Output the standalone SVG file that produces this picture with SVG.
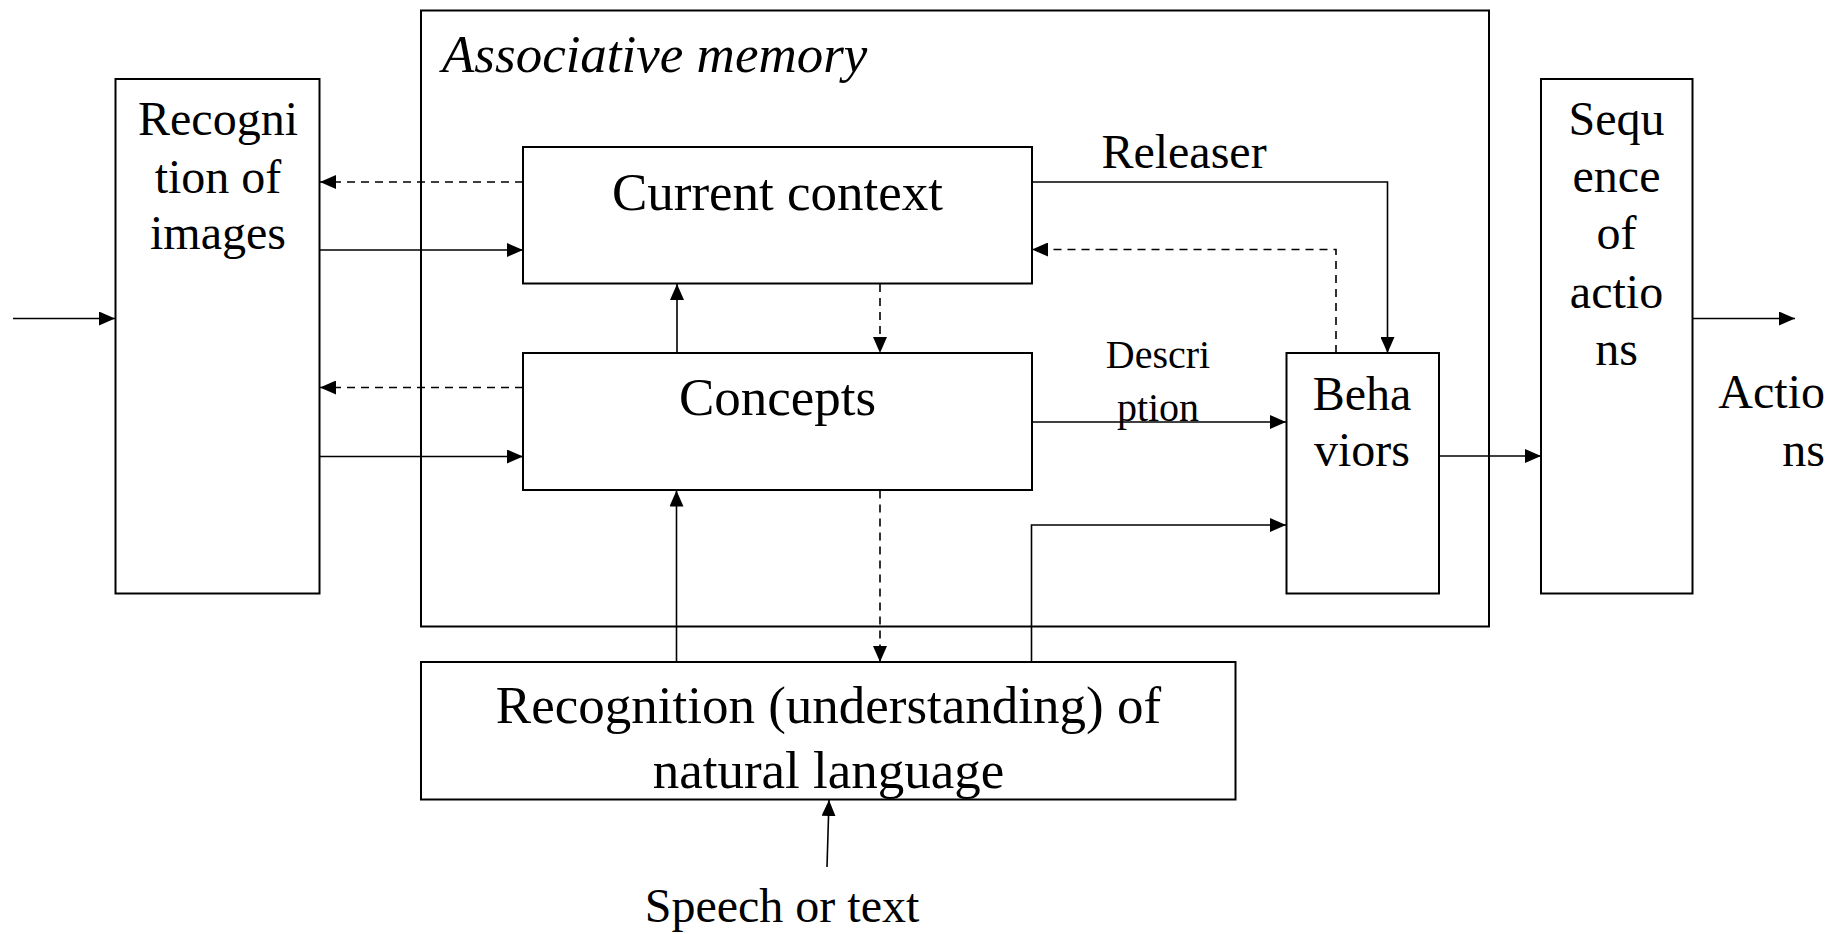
<svg xmlns="http://www.w3.org/2000/svg" width="1843" height="934" viewBox="0 0 1843 934">
<style>
.box{fill:none;stroke:#000;stroke-width:2}
.ln{fill:none;stroke:#000;stroke-width:1.6;marker-end:url(#ah)}
.dash{stroke-dasharray:8,6}
text{font-family:"Liberation Serif","Times New Roman",serif;fill:#000}
.big{font-size:53px;text-anchor:middle}
.med{font-size:48px;text-anchor:middle}
.sm{font-size:40px;text-anchor:middle}
</style>
<defs>
<marker id="ah" markerUnits="userSpaceOnUse" markerWidth="16" markerHeight="14" refX="16" refY="7" orient="auto">
<path d="M0,0 L16,7 L0,14 z" fill="#000"/>
</marker>
</defs>
<rect width="1843" height="934" fill="#fff"/>
<g id="assoc-memory">
<rect class="box" x="421" y="10.5" width="1068" height="616"/>
<text x="442" y="72" style="font-size:53px;font-style:italic">Associative memory</text>
</g>
<g id="recognition-images">
<rect class="box" x="115.5" y="79" width="204" height="514.5"/>
<text class="med" x="218" y="135">Recogni</text>
<text class="med" x="218" y="192.5">tion of</text>
<text class="med" x="218" y="249">images</text>
</g>
<g id="current-context">
<rect class="box" x="523" y="147" width="509" height="136.5"/>
<text class="big" x="777.5" y="210">Current context</text>
</g>
<g id="concepts">
<rect class="box" x="523" y="353" width="509" height="137"/>
<text class="big" x="777.5" y="415">Concepts</text>
</g>
<g id="behaviors">
<rect class="box" x="1286.5" y="353" width="152.5" height="240.5"/>
<text class="med" x="1362" y="410">Beha</text>
<text class="med" x="1362" y="466">viors</text>
</g>
<g id="sequence-actions">
<rect class="box" x="1541" y="79" width="151.5" height="514.5"/>
<text class="med" x="1616.5" y="135">Sequ</text>
<text class="med" x="1616.5" y="192">ence</text>
<text class="med" x="1616.5" y="249">of</text>
<text class="med" x="1616.5" y="308">actio</text>
<text class="med" x="1616.5" y="365">ns</text>
</g>
<g id="natural-language">
<rect class="box" x="421" y="662" width="814.5" height="137.5"/>
<text class="big" x="828.5" y="723">Recognition (understanding) of</text>
<text class="big" x="828.5" y="788">natural language</text>
</g>
<g id="labels">
<text class="med" x="1184" y="167.5">Releaser</text>
<text class="sm" x="1158" y="368">Descri</text>
<text class="sm" x="1158" y="421">ption</text>
<text x="1825" y="408" style="font-size:48px;text-anchor:end">Actio</text>
<text x="1825" y="466" style="font-size:48px;text-anchor:end">ns</text>
<text class="med" x="782" y="922">Speech or text</text>
</g>
<g id="connectors">
<path class="ln" d="M13,318.5 H115"/>
<path class="ln dash" d="M523,182 H320"/>
<path class="ln" d="M320,250 H523"/>
<path class="ln dash" d="M523,387.5 H320"/>
<path class="ln" d="M320,456.5 H523"/>
<path class="ln" d="M677,353 V284"/>
<path class="ln dash" d="M880,284 V353"/>
<path class="ln" d="M1032,182 H1387.5 V353"/>
<path class="ln dash" d="M1336,353 V249.5 H1032"/>
<path class="ln" d="M1032,422 H1286"/>
<path class="ln" d="M1439,456 H1541"/>
<path class="ln" d="M1692.5,318.5 H1795"/>
<path class="ln" d="M676.5,662 V490.5"/>
<path class="ln dash" d="M880,490.5 V662"/>
<path class="ln" d="M1031.5,662 V525 H1286"/>
<path class="ln" d="M827,867 L829,800"/>
</g>
</svg>
